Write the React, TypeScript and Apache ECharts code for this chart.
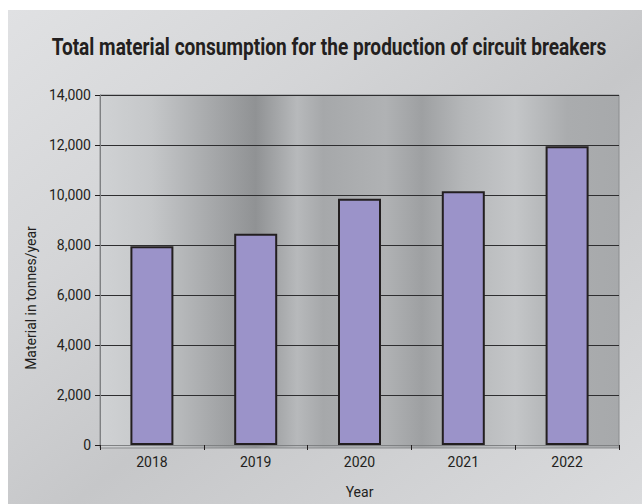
import React, { useEffect, useRef } from "react";
import * as echarts from "echarts";

const years = ["2018", "2019", "2020", "2021", "2022"];
const consumption = [7950, 8450, 9850, 10150, 11950];
const titleText = "Total material consumption for the production of circuit breakers";
const yAxisName = "Material in tonnes/year";
const xAxisName = "Year";

const FONT = "Roboto, 'Liberation Sans', sans-serif";
const TITLE_FONT_SIZE = 24;
const TITLE_WIDTH = 555;

function measure(text: string, font: string): number {
  const c = document.createElement("canvas");
  const ctx = c.getContext("2d");
  if (!ctx) return text.length * 12;
  ctx.font = font;
  return ctx.measureText(text).width;
}

export default function App() {
  const ref = useRef<HTMLDivElement>(null);
  useEffect(() => {
    if (!ref.current) return;
    const chart = echarts.init(ref.current, null, { renderer: "svg" });
    const titleW = measure(titleText, `bold ${TITLE_FONT_SIZE}px Roboto`);
    const titleScale = TITLE_WIDTH / titleW;
    const outerGrad = new echarts.graphic.LinearGradient(0, 0, 1, 1, [
      { offset: 0, color: "#e0e1e3" },
      { offset: 0.3, color: "#d4d5d7" },
      { offset: 0.55, color: "#c6c7c9" },
      { offset: 0.75, color: "#cfd0d2" },
      { offset: 1, color: "#dadbdd" },
    ]);
    const plotGrad = new echarts.graphic.LinearGradient(0, 0, 1, 0, [
      { offset: 0, color: "#d0d2d4" },
      { offset: 0.1, color: "#c5c7c9" },
      { offset: 0.22, color: "#a5a7a9" },
      { offset: 0.3, color: "#909294" },
      { offset: 0.38, color: "#b7b9bb" },
      { offset: 0.43, color: "#a6a8aa" },
      { offset: 0.55, color: "#b0b2b4" },
      { offset: 0.62, color: "#9ea0a2" },
      { offset: 0.7, color: "#b5b7b9" },
      { offset: 0.8, color: "#c4c6c8" },
      { offset: 0.9, color: "#aaacae" },
      { offset: 1, color: "#a7a9ab" },
    ]);
    chart.setOption({
      animation: false,
      backgroundColor: "#ffffff",
      graphic: [
        {
          type: "rect",
          z: -10,
          silent: true,
          shape: { x: 8, y: 10, width: 634, height: 494 },
          style: { fill: outerGrad },
        },
        {
          type: "rect",
          z: -9,
          silent: true,
          shape: { x: 100, y: 95, width: 519, height: 353 },
          style: { fill: plotGrad, stroke: "#8a8c8e", lineWidth: 1 },
        },
        {
          type: "text",
          z: 10,
          x: 329,
          y: 47,
          scaleX: titleScale,
          style: {
            text: titleText,
            fontFamily: "Roboto, sans-serif",
            fontWeight: "bold",
            fontSize: TITLE_FONT_SIZE,
            fill: "#231f20",
            textAlign: "center",
            textVerticalAlign: "middle",
          },
        },
      ],
      grid: { left: 100, right: 23, top: 95, bottom: 56, containLabel: false },
      xAxis: {
        type: "category",
        data: years,
        name: xAxisName,
        nameLocation: "middle",
        nameGap: 40,
        nameTextStyle: { fontFamily: FONT, fontSize: 14, color: "#231f20" },
        axisLine: { lineStyle: { color: "#7f8183", width: 1 } },
        axisTick: { show: true, alignWithLabel: false, length: 5, lineStyle: { color: "#231f20" } },
        axisLabel: { fontFamily: FONT, fontSize: 14, color: "#231f20", margin: 10 },
      },
      yAxis: {
        type: "value",
        min: 0,
        max: 14000,
        interval: 2000,
        name: yAxisName,
        nameLocation: "middle",
        nameGap: 57,
        nameTextStyle: {
          fontFamily: FONT,
          fontSize: 14,
          color: "#231f20",
          padding: [0, 56, 0, 0],
        },
        axisLine: { show: true, lineStyle: { color: "#7f8183", width: 1 } },
        axisTick: { show: true, length: 5, lineStyle: { color: "#231f20" } },
        axisLabel: {
          fontFamily: FONT,
          fontSize: 14,
          color: "#231f20",
          margin: 9,
          formatter: (v: number) => v.toLocaleString("en-US"),
        },
        splitLine: { show: true, lineStyle: { color: "#2e2e30", width: 1 } },
      },
      series: [
        {
          type: "bar",
          data: consumption,
          barWidth: 43,
          itemStyle: { color: "#9b93c9", borderColor: "#231f20", borderWidth: 2 },
        },
      ],
    });
    return () => chart.dispose();
  }, []);
  return (
    <div
      ref={ref}
      style={{ position: "fixed", left: 0, top: 0, width: 642, height: 504 }}
    />
  );
}
